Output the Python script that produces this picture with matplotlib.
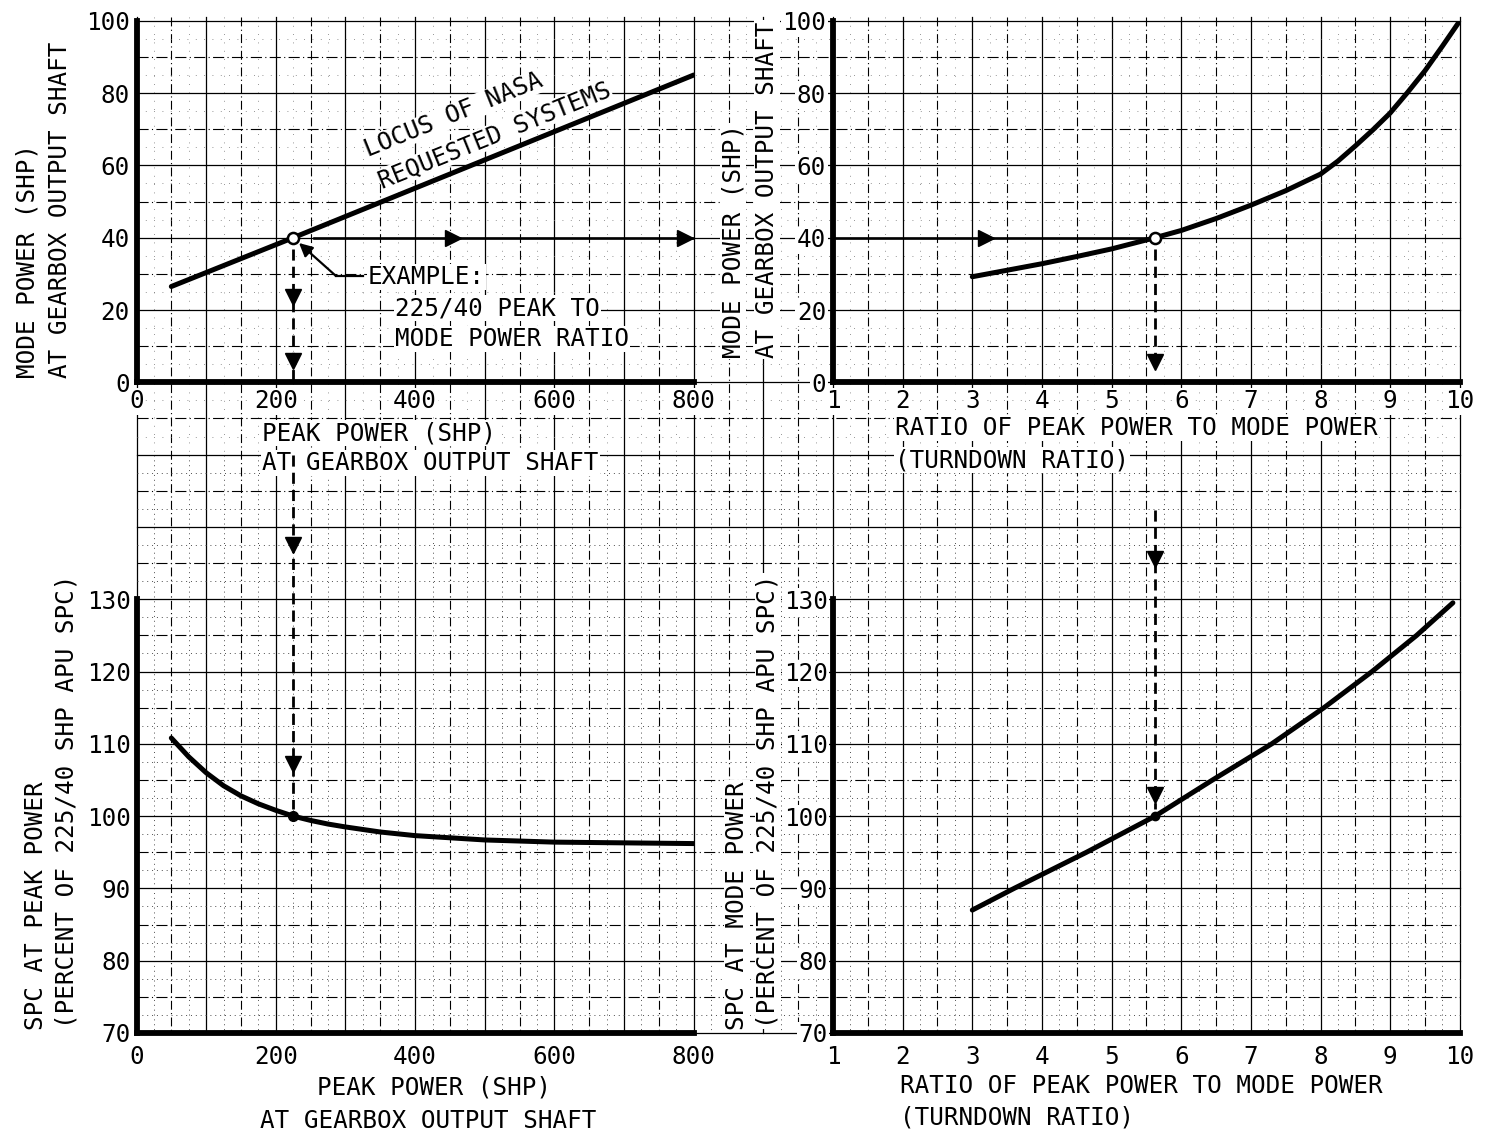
import numpy as np
import matplotlib.pyplot as plt

plt.rcParams['font.family'] = ['DejaVu Sans Mono', 'DejaVu Sans']

# top left: locus of NASA requested systems
peak_locus = [50, 225, 800]
mode_locus = [26.5, 40, 85]

# top right: mode power vs turndown ratio
ratio_mode = [3, 3.5, 4, 4.5, 5, 5.625, 6, 6.5, 7, 7.5, 8, 8.25, 8.5, 8.75, 9, 9.25, 9.5, 9.75, 10]
mode_power = [29.2, 31.0, 32.8, 34.8, 36.9, 40, 42, 45.3, 49, 53, 57.6, 61.2, 65.4, 69.8, 74.5, 80.2, 86.2, 93.0, 100]

# bottom left: SPC at peak power vs peak power
peak_spc = [50, 75, 100, 125, 150, 175, 200, 225, 250, 275, 300, 350, 400, 450, 500, 600, 700, 800]
spc_peak = [110.8, 108.2, 106.0, 104.2, 102.8, 101.7, 100.8, 100, 99.4, 98.9, 98.5, 97.8, 97.3,
            97.0, 96.7, 96.4, 96.3, 96.2]

# bottom right: SPC at mode power vs turndown ratio
ratio_spc = [3, 3.6, 4.64, 5.625, 6.45, 7.3, 8.05, 8.74, 9.38, 9.9]
spc_mode = [87, 90, 95, 100, 105, 110, 115, 120, 125, 129.5]

# worked example 225/40
ex_peak = 225
ex_mode = 40
ex_ratio = 5.625
ex_spc = 100

peak_ticks = [0, 200, 400, 600, 800]
ratio_ticks = [1, 2, 3, 4, 5, 6, 7, 8, 9, 10]
mode_ticks = [0, 20, 40, 60, 80, 100]
spc_ticks = [70, 80, 90, 100, 110, 120, 130]

W, H = 1490, 1138
FS = 17.5
fig = plt.figure(figsize=(W / 100, H / 100), dpi=100)

# graph paper in pixel coordinates
bg = fig.add_axes([0, 0, 1, 1])
bg.set_xlim(0, W)
bg.set_ylim(H, 0)
bg.axis('off')

gx0, gdx = 136.5, 69.65
gy0, gdy = 1033.0, 72.3
xl, xr = gx0, gx0 + 19 * gdx
yt, yb = gy0 - 14 * gdy - 4, gy0

for k in range(20):
    x = gx0 + k * gdx
    bg.plot([x, x], [yt, yb], color='k', lw=0.9)
    if k < 19:
        bg.plot([x + gdx / 2] * 2, [yt, yb], color='k', lw=0.8, ls=(0, (8, 3, 1, 3)))
        for q in (0.25, 0.75):
            bg.plot([x + q * gdx] * 2, [455, yb], color='0.3', lw=0.7, ls=(0, (1, 4)))
            bg.plot([x + q * gdx] * 2, [yt, 455], color='0.45', lw=0.6, ls=(0, (1, 9)))
for k in range(15):
    y = gy0 - k * gdy
    bg.plot([xl, xr], [y, y], color='k', lw=0.9)
    if k < 14:
        bg.plot([xl, xr], [y - gdy / 2] * 2, color='k', lw=0.8, ls=(0, (10, 3, 1, 3)))
        for q in (0.25, 0.75):
            yy = y - q * gdy
            if yy > 455:
                bg.plot([xl, xr], [yy, yy], color='0.3', lw=0.7, ls=(0, (1, 4)))
            else:
                bg.plot([xl, xr], [yy, yy], color='0.45', lw=0.6, ls=(0, (1, 9)))


def panel(col0, ncol, row_top, nrow):
    x0 = gx0 + col0 * gdx
    ytop = gy0 - row_top * gdy
    ax = fig.add_axes([x0 / W, 1 - (ytop + nrow * gdy) / H, ncol * gdx / W, nrow * gdy / H])
    ax.patch.set_alpha(0)
    for s in ('top', 'right'):
        ax.spines[s].set_visible(False)
    for s in ('left', 'bottom'):
        ax.spines[s].set_linewidth(4.2)
    ax.tick_params(length=0, labelsize=FS)
    return ax


white = dict(facecolor='white', edgecolor='none', pad=1)

tl = panel(0, 8, 14, 5)
tr = panel(10, 9, 14, 5)
bl = panel(0, 8, 6, 6)
br = panel(10, 9, 6, 6)

for ax in (tl, bl):
    ax.set_xlim(0, 800)
    ax.set_xticks(peak_ticks)
for ax in (tr, br):
    ax.set_xlim(1, 10)
    ax.set_xticks(ratio_ticks)
for ax in (tl, tr):
    ax.set_ylim(0, 100)
    ax.set_yticks(mode_ticks)
    ax.tick_params(axis='x', pad=5)
    ax.tick_params(axis='y', pad=5)
for ax in (bl, br):
    ax.set_ylim(70, 130)
    ax.set_yticks(spc_ticks)
    ax.tick_params(axis='x', pad=9)
    ax.tick_params(axis='y', pad=4)
for ax in (tl, tr, bl, br):
    for lb in ax.get_xticklabels() + ax.get_yticklabels():
        lb.set_bbox(white)

# curves
tl.plot(peak_locus, mode_locus, color='k', lw=3.6, solid_capstyle='round')
tr.plot(ratio_mode, mode_power, color='k', lw=3.6, solid_capstyle='round', solid_joinstyle='round')
bl.plot(peak_spc, spc_peak, color='k', lw=3.6, solid_capstyle='round', solid_joinstyle='round')
br.plot(ratio_spc, spc_mode, color='k', lw=3.6, solid_capstyle='round', solid_joinstyle='round')

dash = (0, (4, 2.2))

# example path, top left
tl.plot([ex_peak + 30, 800], [ex_mode, ex_mode], color='k', lw=1.9)
tl.plot([455, 787], [ex_mode, ex_mode], ls='none', marker='>', ms=12, color='k')
tl.plot([ex_peak, ex_peak], [ex_mode - 3, 0.5], color='k', lw=2, ls=dash)
tl.plot([ex_peak, ex_peak], [23.7, 5.9], ls='none', marker='v', ms=11, color='k')
tl.plot([ex_peak], [ex_mode], marker='o', ms=8, mfc='white', mec='k', mew=1.8)

# example path, top right
tr.plot([1, ex_ratio - 0.1], [ex_mode, ex_mode], color='k', lw=1.9)
tr.plot([3.2], [ex_mode], ls='none', marker='>', ms=12, color='k')
tr.plot([ex_ratio, ex_ratio], [ex_mode - 3, 6], color='k', lw=2, ls=dash)
tr.plot([ex_ratio], [5.5], ls='none', marker='v', ms=11, color='k')
tr.plot([ex_ratio], [ex_mode], marker='o', ms=8, mfc='white', mec='k', mew=1.8)

# example path, bottom left
bl.plot([ex_peak, ex_peak], [149.9, ex_spc + 1], color='k', lw=2, ls=dash, clip_on=False)
bl.plot([ex_peak, ex_peak], [137.5, 107.2], ls='none', marker='v', ms=11, color='k', clip_on=False)
bl.plot([ex_peak], [ex_spc], marker='o', ms=7, color='k')

# example path, bottom right
br.plot([ex_ratio, ex_ratio], [142.4, ex_spc + 1], color='k', lw=2, ls=dash, clip_on=False)
br.plot([ex_ratio, ex_ratio], [135.6, 102.9], ls='none', marker='v', ms=11, color='k', clip_on=False)
br.plot([ex_ratio], [ex_spc], marker='o', ms=6, color='k')


# axis titles
def txt(x, y, s, **kw):
    kw.setdefault('fontsize', FS)
    kw.setdefault('bbox', white)
    bg.text(x, y, s, **kw)


txt(28, 378, 'MODE POWER (SHP)', rotation=90, ha='center', va='bottom')
txt(60, 378, 'AT GEARBOX OUTPUT SHAFT', rotation=90, ha='center', va='bottom')
txt(733, 358, 'MODE POWER (SHP)', rotation=90, ha='center', va='bottom')
txt(767, 358, 'AT GEARBOX OUTPUT SHAFT', rotation=90, ha='center', va='bottom')
txt(36, 1030, 'SPC AT PEAK POWER', rotation=90, ha='center', va='bottom')
txt(67, 1028, '(PERCENT OF 225/40 SHP APU SPC)', rotation=90, ha='center', va='bottom')
txt(737, 1030, 'SPC AT MODE POWER', rotation=90, ha='center', va='bottom')
txt(768, 1028, '(PERCENT OF 225/40 SHP APU SPC)', rotation=90, ha='center', va='bottom')

txt(262, 433, 'PEAK POWER (SHP)', ha='left', va='center')
txt(262, 463, 'AT GEARBOX OUTPUT SHAFT', ha='left', va='center')
txt(895, 428, 'RATIO OF PEAK POWER TO MODE POWER', ha='left', va='center')
txt(895, 460, '(TURNDOWN RATIO)', ha='left', va='center')
txt(434, 1088, 'PEAK POWER (SHP)', ha='center', va='center')
txt(428, 1121, 'AT GEARBOX OUTPUT SHAFT', ha='center', va='center')
txt(900, 1086, 'RATIO OF PEAK POWER TO MODE POWER', ha='left', va='center')
txt(900, 1118, '(TURNDOWN RATIO)', ha='left', va='center')

# annotations
txt(454, 115, 'LOCUS OF NASA', rotation=22, rotation_mode='anchor', ha='center', va='center',
    bbox=dict(facecolor='white', edgecolor='none', pad=0))
txt(495, 135, 'REQUESTED SYSTEMS', rotation=22, rotation_mode='anchor', ha='center', va='center',
    bbox=dict(facecolor='white', edgecolor='none', pad=0))
txt(368, 277, 'EXAMPLE:', ha='left', va='center')
txt(395, 308, '225/40 PEAK TO', ha='left', va='center')
txt(395, 339, 'MODE POWER RATIO', ha='left', va='center')
bg.plot([363, 336], [276, 276], color='k', lw=1.6)
bg.annotate('', xy=(299, 243), xytext=(336, 276),
            arrowprops=dict(arrowstyle='-|>', color='k', lw=1.6, mutation_scale=20,
                            shrinkA=0, shrinkB=0))

fig.savefig('out.png', dpi=100, facecolor='white')
